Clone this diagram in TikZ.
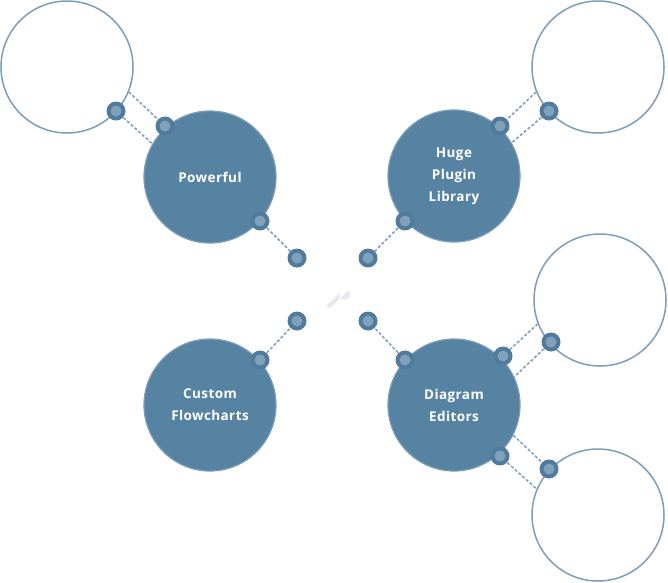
\documentclass[tikz,border=0pt]{standalone}
\usepackage{fontspec}
\setmainfont{Open Sans}[LetterSpace=3]
\usetikzlibrary{backgrounds}
\definecolor{fillBlue}{RGB}{87,131,163}
\definecolor{ringBlue}{RGB}{125,157,184}
\definecolor{dotDark}{RGB}{80,123,157}
\definecolor{dotLight}{RGB}{128,161,187}
\definecolor{iconGray}{RGB}{230,234,239}
\tikzset{
  ringcircle/.style={circle,draw=ringBlue,line width=1.5pt,fill=white,minimum size=132pt,inner sep=0pt},
  topic/.style={circle,draw=ringBlue,line width=1.2pt,fill=fillBlue,minimum size=132pt,inner sep=0pt,
    text=white,align=center,font=\bfseries\fontsize{13.5}{22}\selectfont},
  joint/.style={circle,fill=dotDark,minimum size=19pt,inner sep=0pt,
    path picture={\fill[dotLight] (path picture bounding box.center) circle (5.5pt);}},
  link/.style={draw=ringBlue,line width=1.5pt,dash pattern=on 3pt off 2pt}
}
\begin{document}
\begin{tikzpicture}[x=1pt,y=-1pt]
\path[use as bounding box] (0,0) rectangle (668,582);

% outer rings
\node[ringcircle] (ringA) at ( 67, 67) {};
\node[ringcircle] (ringB) at (598, 67) {};
\node[ringcircle] (ringC) at (600,300) {};
\node[ringcircle] (ringD) at (598,515) {};

% topics
\node[topic] (powerful) at (210,177) {Powerful};
\node[topic] (plugins)  at (454,176) {Huge\\Plugin\\Library};
\node[topic] (flow)     at (210,405) {Custom\\Flowcharts};
\node[topic] (editors)  at (454,405) {Diagram\\Editors};

% joints
\node[joint] (jA1) at (116,111) {};
\node[joint] (jA2) at (165,126) {};
\node[joint] (jP1) at (260,221) {};
\node[joint] (jP2) at (297,258) {};
\node[joint] (jB1) at (549,111) {};
\node[joint] (jB2) at (500,126) {};
\node[joint] (jL1) at (405,221) {};
\node[joint] (jL2) at (368,258) {};
\node[joint] (jF1) at (260,360) {};
\node[joint] (jF2) at (297,321) {};
\node[joint] (jE1) at (405,360) {};
\node[joint] (jE2) at (368,321) {};
\node[joint] (jC1) at (551,342) {};
\node[joint] (jC2) at (503,356) {};
\node[joint] (jD1) at (549,469) {};
\node[joint] (jD2) at (500,456) {};

% dashed links
\begin{pgfonlayer}{background}
\path[link] (ringA.-22) -- (jA2.center);
\path[link] (jA1.center) -- (powerful.150);
\path[link] (ringB.-158) -- (jB2.center);
\path[link] (jB1.center) -- (plugins.30);
\path[link] (ringC.-159) -- (jC2.center);
\path[link] (jC1.center) -- (editors.25);
\path[link] (editors.-27) -- (jD1.center);
\path[link] (jD2.center) -- (ringD.157);
\path[link] (jP1.center) -- (jP2.center);
\path[link] (jL1.center) -- (jL2.center);
\path[link] (jF1.center) -- (jF2.center);
\path[link] (jE1.center) -- (jE2.center);
\end{pgfonlayer}

% faint centre mark
\coordinate (mark) at (343,294);
\fill[iconGray] ([shift={(-17,12)}]mark) -- ([shift={(-3,-2)}]mark)
  arc[start angle=210,end angle=-50,radius=5.5] -- ([shift={(-13,14)}]mark) -- cycle;
\end{tikzpicture}
\end{document}
